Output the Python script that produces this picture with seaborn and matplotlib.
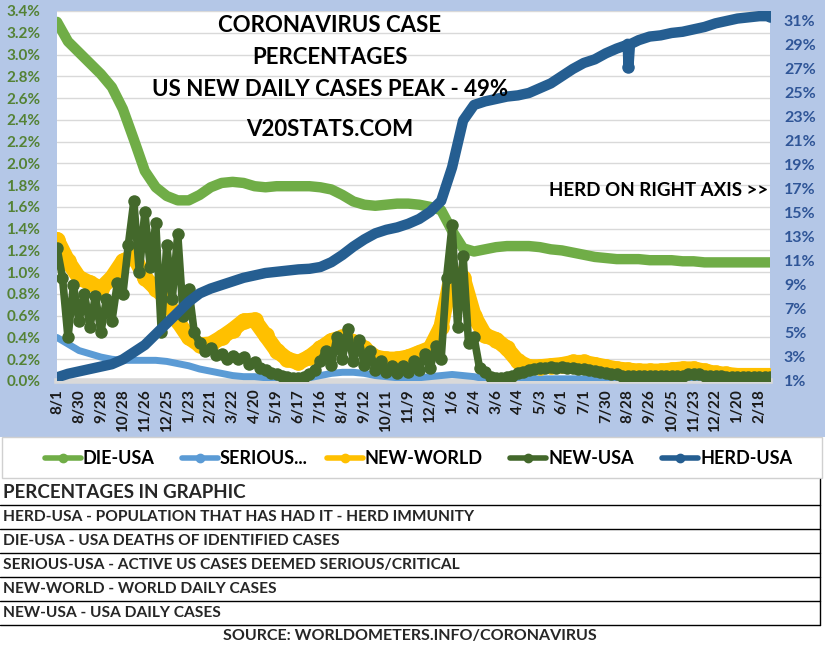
import matplotlib
matplotlib.use("Agg")
import numpy as np
import pandas as pd
import matplotlib.pyplot as plt
import seaborn as sns
from matplotlib.lines import Line2D
from matplotlib.patches import Rectangle

# ---- data ----
date_labels = ["8/1", "8/30", "9/28", "10/28", "11/26", "12/25", "1/23", "2/21",
               "3/22", "4/20", "5/19", "6/17", "7/16", "8/14", "9/12", "10/11",
               "11/9", "12/8", "1/6", "2/4", "3/6", "4/4", "5/3", "6/1", "7/1",
               "7/30", "8/28", "9/26", "10/25", "11/23", "12/22", "1/20", "2/18"]
label_step = 29          # one label every 29 categories
smooth_step = 14.5       # sampling step of the smooth series (categories)
fine_step = 7.25         # sampling step of NEW-USA

# left axis, percent
die_usa = [3.30, 3.12, 3.02, 2.92, 2.82, 2.70, 2.50, 2.22, 1.93, 1.78, 1.70, 1.66,
           1.66, 1.71, 1.78, 1.82, 1.83, 1.82, 1.79, 1.78, 1.79, 1.79, 1.79, 1.79,
           1.78, 1.76, 1.71, 1.65, 1.62, 1.61, 1.62, 1.63, 1.63, 1.62, 1.60, 1.57,
           1.38, 1.22, 1.19, 1.21, 1.23, 1.24, 1.24, 1.24, 1.23, 1.21, 1.20, 1.18,
           1.16, 1.14, 1.13, 1.12, 1.12, 1.12, 1.11, 1.11, 1.11, 1.10, 1.10, 1.09,
           1.09, 1.09, 1.09, 1.09, 1.09, 1.09]
serious_usa = [0.40, 0.34, 0.28, 0.25, 0.22, 0.20, 0.19, 0.19, 0.19, 0.19, 0.18, 0.16,
               0.14, 0.11, 0.09, 0.07, 0.05, 0.04, 0.04, 0.03, 0.03, 0.02, 0.02, 0.03,
               0.05, 0.07, 0.08, 0.08, 0.07, 0.05, 0.04, 0.03, 0.03, 0.03, 0.04, 0.05,
               0.06, 0.05, 0.04, 0.02, 0.02, 0.02, 0.02, 0.02, 0.02, 0.02, 0.02, 0.02,
               0.02, 0.02, 0.02, 0.02, 0.02, 0.02, 0.02, 0.02, 0.02, 0.02, 0.02, 0.02,
               0.02, 0.02, 0.02, 0.02, 0.02, 0.02]
new_world = [1.30, 1.10, 0.95, 0.90, 0.85, 0.95, 1.10, 1.15, 0.95, 0.85, 0.75, 0.55,
             0.40, 0.33, 0.34, 0.40, 0.47, 0.55, 0.56, 0.42, 0.28, 0.20, 0.17, 0.22,
             0.30, 0.37, 0.40, 0.36, 0.30, 0.22, 0.20, 0.20, 0.22, 0.26, 0.30, 0.50,
             1.00, 0.95, 0.60, 0.42, 0.38, 0.30, 0.18, 0.13, 0.13, 0.14, 0.15, 0.17,
             0.17, 0.15, 0.13, 0.11, 0.10, 0.09, 0.09, 0.09, 0.10, 0.11, 0.11, 0.09,
             0.07, 0.06, 0.05, 0.05, 0.05, 0.05]
new_usa = [1.22, 0.95, 0.40, 0.88, 0.55, 0.80, 0.50, 0.78, 0.45, 0.75, 0.55, 0.90,
           0.80, 1.25, 1.65, 1.00, 1.55, 1.05, 1.45, 0.45, 1.25, 0.75, 1.35, 0.60,
           0.85, 0.45, 0.35, 0.28, 0.30, 0.24, 0.25, 0.20, 0.23, 0.20, 0.22, 0.16,
           0.17, 0.12, 0.10, 0.07, 0.06, 0.05, 0.04, 0.03, 0.03, 0.04, 0.06, 0.10,
           0.18, 0.28, 0.15, 0.40, 0.20, 0.48, 0.18, 0.38, 0.15, 0.28, 0.10, 0.18,
           0.08, 0.14, 0.07, 0.14, 0.08, 0.18, 0.10, 0.25, 0.12, 0.32, 0.20, 0.95,
           1.43, 0.50, 1.15, 0.35, 0.40, 0.12, 0.08, 0.04, 0.03, 0.03, 0.04, 0.05,
           0.07, 0.08, 0.10, 0.11, 0.12, 0.12, 0.13, 0.12, 0.13, 0.12, 0.12, 0.11,
           0.11, 0.10, 0.09, 0.08, 0.07, 0.06, 0.06, 0.05, 0.05, 0.05, 0.05, 0.05,
           0.05, 0.05, 0.05, 0.05, 0.05, 0.05, 0.05, 0.06, 0.06, 0.06, 0.05, 0.05,
           0.05, 0.05, 0.04, 0.04, 0.04, 0.04, 0.04, 0.04, 0.04, 0.04, 0.04]
# right axis, percent
herd_usa = [1.3, 1.6, 1.8, 2.0, 2.2, 2.4, 2.8, 3.4, 4.0, 4.9, 5.8, 6.7, 7.6, 8.3,
            8.7, 9.0, 9.3, 9.6, 9.8, 10.0, 10.1, 10.2, 10.3, 10.35, 10.5, 10.9, 11.5,
            12.2, 12.8, 13.3, 13.6, 13.8, 14.1, 14.5, 15.1, 16.0, 18.8, 22.7, 24.0,
            24.3, 24.5, 24.7, 24.8, 25.0, 25.4, 25.8, 26.4, 27.0, 27.5, 27.8, 28.3,
            28.7, 29.1, 29.4, 29.7, 29.8, 30.0, 30.1, 30.3, 30.5, 30.8, 31.0, 31.2,
            31.3, 31.4, 31.4]
herd_dip_idx = [753, 755, 757]
herd_dip = [29.0, 27.2, 29.05]

legend_names = ["DIE-USA", "SERIOUS...", "NEW-WORLD", "NEW-USA", "HERD-USA"]
notes = ["HERD-USA - POPULATION THAT HAS HAD IT - HERD IMMUNITY",
         "DIE-USA - USA DEATHS OF IDENTIFIED CASES",
         "SERIOUS-USA - ACTIVE US CASES DEEMED SERIOUS/CRITICAL",
         "NEW-WORLD - WORLD DAILY CASES",
         "NEW-USA - USA DAILY CASES"]

c_die, c_ser, c_world, c_usa, c_herd = "#70AD47", "#5B9BD5", "#FFC000", "#43682B", "#255E91"
frame_blue = "#B4C7E7"

# ---- frames ----
smooth = pd.DataFrame({"x": np.arange(len(die_usa)) * smooth_step,
                       "die": die_usa, "serious": serious_usa,
                       "world": new_world, "herd": herd_usa})
fine = pd.DataFrame({"x": np.arange(len(new_usa)) * fine_step, "usa": new_usa})
herd_df = pd.concat([smooth[["x", "herd"]],
                     pd.DataFrame({"x": herd_dip_idx, "herd": herd_dip})]).sort_values("x")

sns.set_theme(style="white")
plt.rcParams["font.family"] = ["Lato", "DejaVu Sans"]

W, H = 825, 647
fig = plt.figure(figsize=(W / 100, H / 100), dpi=100)
fig.patch.set_facecolor("white")


def fx(px):
    return px / W


def fy(px):
    return 1 - px / H


fig.add_artist(Rectangle((0, fy(437)), 1, fy(0) - fy(437), transform=fig.transFigure,
                         facecolor=frame_blue, edgecolor="none", zorder=0))

ax = fig.add_axes([fx(57), fy(381), fx(770) - fx(57), fy(11) - fy(381)])
ax.set_facecolor("white")
ax2 = ax.twinx()

ax.set_xlim(0, 942)
ax.set_ylim(0, 3.4)
ax2.set_ylim(1, 31.83)

kw = dict(estimator=None, sort=True, legend=False)
sns.lineplot(data=smooth, x="x", y="die", ax=ax, color=c_die, lw=7.5, zorder=3, **kw)
sns.lineplot(data=smooth, x="x", y="serious", ax=ax, color=c_ser, lw=5, zorder=3, **kw)
sns.lineplot(data=smooth, x="x", y="world", ax=ax, color=c_world, lw=11, marker="o",
             markersize=12, markeredgewidth=0, zorder=4, **kw)
sns.lineplot(data=fine, x="x", y="usa", ax=ax, color=c_usa, lw=5.5, marker="o",
             markersize=9, markeredgewidth=0, zorder=5, **kw)
sns.lineplot(data=herd_df, x="x", y="herd", ax=ax2, color=c_herd, lw=7.5, **kw)
ax2.plot(herd_dip_idx[1], herd_dip[1], "o", color=c_herd, ms=8)
ax2.plot(smooth["x"].iloc[-1], herd_usa[-1], "o", color=c_herd, ms=8)

yt = np.arange(0, 3.41, 0.2)
ax.set_yticks(yt)
ax.set_yticklabels([f"{v:.1f}%" for v in yt], color="#548235", fontweight="bold", fontsize=11)
ax.grid(axis="y", color="#D9D9D9", lw=1)
ax.set_axisbelow(True)
rt = np.arange(1, 32, 2)
ax2.set_yticks(rt)
ax2.set_yticklabels([f"{v}%" for v in rt], color="#2F5597", fontweight="bold", fontsize=11.5)
ax2.grid(False)

ax.set_xticks(np.arange(len(date_labels)) * label_step)
ax.set_xticklabels(date_labels, rotation=90, fontweight="bold", fontsize=11, color="#1a1a1a")
ax.tick_params(axis="x", length=0, pad=6)
ax.tick_params(axis="y", length=0, pad=12)
ax2.tick_params(axis="y", length=0, pad=10)
ax.set_xlabel("")
ax.set_ylabel("")
ax2.set_ylabel("")
for a in (ax, ax2):
    for s in a.spines.values():
        s.set_visible(False)
ax.spines["bottom"].set_visible(True)
ax.spines["bottom"].set_color("#D9D9D9")
ax.spines["bottom"].set_linewidth(4)

# titles inside the plot
for txt, ypx in [("CORONAVIRUS CASE", 25), ("PERCENTAGES", 57),
                 ("US NEW DAILY CASES PEAK - 49%", 90), ("V20STATS.COM", 130)]:
    fig.text(fx(330), fy(ypx), txt, ha="center", va="center", fontsize=16,
             fontweight="bold", color="black")
fig.text(fx(768), fy(190), "HERD ON RIGHT AXIS >>", ha="right", va="center",
         fontsize=13.5, fontweight="bold", color="black")

# legend band (placed by hand, one entry per series)
fig.add_artist(Rectangle((fx(2), fy(478)), fx(820), fy(437) - fy(478), transform=fig.transFigure,
                         facecolor="white", edgecolor="#D0D0D0", lw=1, zorder=1))
leg_x = [45, 182, 327, 510, 662]
for x0, name, c in zip(leg_x, legend_names, (c_die, c_ser, c_world, c_usa, c_herd)):
    fig.add_artist(Line2D([fx(x0), fx(x0 + 36)], [fy(458), fy(458)], color=c, lw=4,
                          transform=fig.transFigure, zorder=2))
    fig.add_artist(Line2D([fx(x0 + 18)], [fy(458)], color=c, marker="o", ms=6,
                          transform=fig.transFigure, zorder=2))
    fig.text(fx(x0 + 38), fy(458), name, ha="left", va="center", fontsize=13,
             fontweight="bold", color="black")

# notes table
for ypx in [505, 529, 553, 577, 601, 625]:
    fig.add_artist(Line2D([0, fx(820)], [fy(ypx), fy(ypx)], color="black", lw=1,
                          transform=fig.transFigure))
fig.add_artist(Line2D([fx(820), fx(820)], [fy(479), fy(625)], color="black", lw=1,
                      transform=fig.transFigure))
fig.text(fx(3), fy(492), "PERCENTAGES IN GRAPHIC", ha="left", va="center", fontsize=13.5,
         fontweight="bold")
for txt, ypx in zip(notes, [517, 541, 565, 589, 613]):
    fig.text(fx(3), fy(ypx), txt, ha="left", va="center", fontsize=11.2, fontweight="bold")
fig.text(fx(410), fy(636), "SOURCE: WORLDOMETERS.INFO/CORONAVIRUS", ha="center",
         va="center", fontsize=11.5, fontweight="bold")

fig.savefig("out.png", dpi=100)
